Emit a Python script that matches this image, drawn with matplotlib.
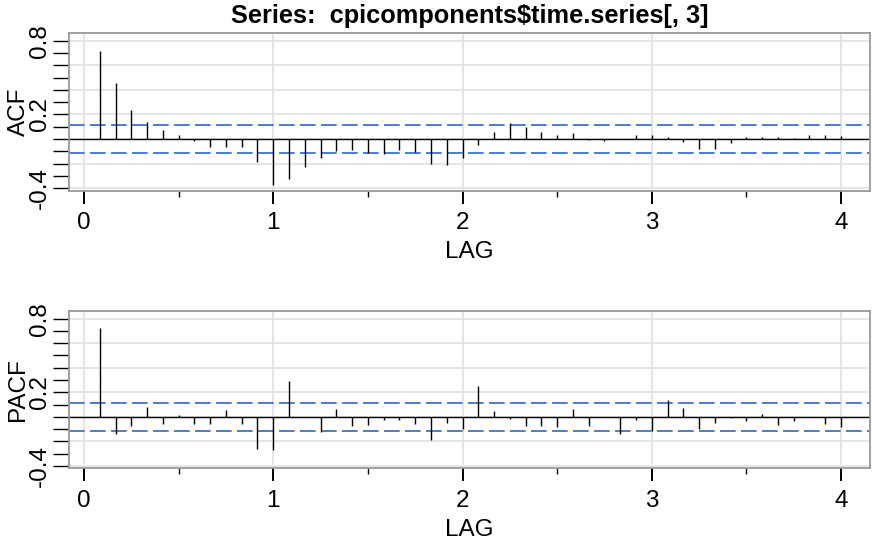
import numpy as np
import matplotlib
matplotlib.use('Agg')
import matplotlib.pyplot as plt
from matplotlib.ticker import MultipleLocator, FixedLocator

plt.rcParams['font.family'] = ['Liberation Sans', 'DejaVu Sans']
plt.rcParams['axes.unicode_minus'] = False

title = 'Series:  cpicomponents$time.series[, 3]'
lags = np.arange(1, 49) / 12
acf = [0.72, 0.455, 0.237, 0.142, 0.074, 0.035, -0.016, -0.063, -0.063, -0.068,
       -0.185, -0.37, -0.327, -0.231, -0.152, -0.098, -0.09, -0.117, -0.122, -0.09,
       -0.106, -0.201, -0.209, -0.158, -0.045, 0.055, 0.13, 0.098, 0.06, 0.03,
       0.047, -0.005, -0.016, 0.0, 0.03, 0.03, 0.016, -0.02, -0.081, -0.081,
       -0.03, 0.02, 0.013, 0.013, 0.005, 0.03, 0.03, 0.024]
pacf = [0.72, -0.141, -0.079, 0.079, -0.057, 0.013, -0.057, -0.057, 0.057, -0.057,
        -0.266, -0.274, 0.293, -0.005, -0.124, 0.06, -0.079, -0.071, -0.03, -0.03,
        -0.063, -0.19, -0.052, -0.097, 0.247, 0.043, -0.019, -0.076, -0.076, -0.081,
        0.065, -0.073, -0.005, -0.141, -0.03, -0.116, 0.139, 0.071, -0.103, -0.052,
        -0.008, -0.035, 0.024, -0.065, -0.035, -0.005, -0.057, -0.087]
conf = 0.115


def style_axes(ax, ylabel):
    ax.set_xlim(-0.0766, 4.153)
    ax.set_ylim(-0.42, 0.865)
    for sp in ax.spines.values():
        sp.set_color('#999999')
        sp.set_linewidth(1.3)
    ax.xaxis.set_major_locator(FixedLocator([0, 1, 2, 3, 4]))
    ax.xaxis.set_minor_locator(FixedLocator([0.5, 1.5, 2.5, 3.5]))
    ax.yaxis.set_major_locator(FixedLocator([-0.4, 0.2, 0.8]))
    ax.yaxis.set_minor_locator(MultipleLocator(0.1))
    ax.tick_params(axis='x', which='major', length=9.4, width=1.4, labelsize=17.5, pad=6)
    ax.tick_params(axis='x', which='minor', length=4.5, width=1.0)
    ax.tick_params(axis='y', which='both', length=11.5, width=1.0, labelsize=17.5, pad=2)
    for lab in ax.get_yticklabels():
        lab.set_rotation(90)
        lab.set_va('center')
    for g in [0, 1, 2, 3, 4]:
        ax.axvline(g, color='#e3e3e3', lw=1.3, zorder=0)
    for g in [-0.4, -0.2, 0.0, 0.2, 0.4, 0.6, 0.8]:
        ax.axhline(g, color='#e3e3e3', lw=1.3, zorder=0)
    ax.set_xlabel('LAG', fontsize=17.5, labelpad=5)
    ax.set_ylabel(ylabel, fontsize=17.5)
    ax.yaxis.set_label_coords(-0.05, 0.5)


def plot_corr(ax, values, ylabel):
    style_axes(ax, ylabel)
    ax.axhline(0, color='black', lw=1.0, zorder=2)
    ax.vlines(lags, 0, values, color='black', lw=1.0, zorder=3)
    for c in (conf, -conf):
        ax.axhline(c, color='#2f66c9', lw=1.2, dashes=(9.4, 3.2), zorder=2)


fig = plt.figure(figsize=(8.72, 5.39), dpi=100)
ax1 = fig.add_axes([0.0797, 0.6462, 0.918, 0.2931])
ax2 = fig.add_axes([0.0797, 0.1312, 0.918, 0.2924])
plot_corr(ax1, acf, 'ACF')
plot_corr(ax2, pacf, 'PACF')
ax1.set_title(title, fontsize=18.3, fontweight='bold', pad=7)
fig.savefig('out.png', dpi=100)
